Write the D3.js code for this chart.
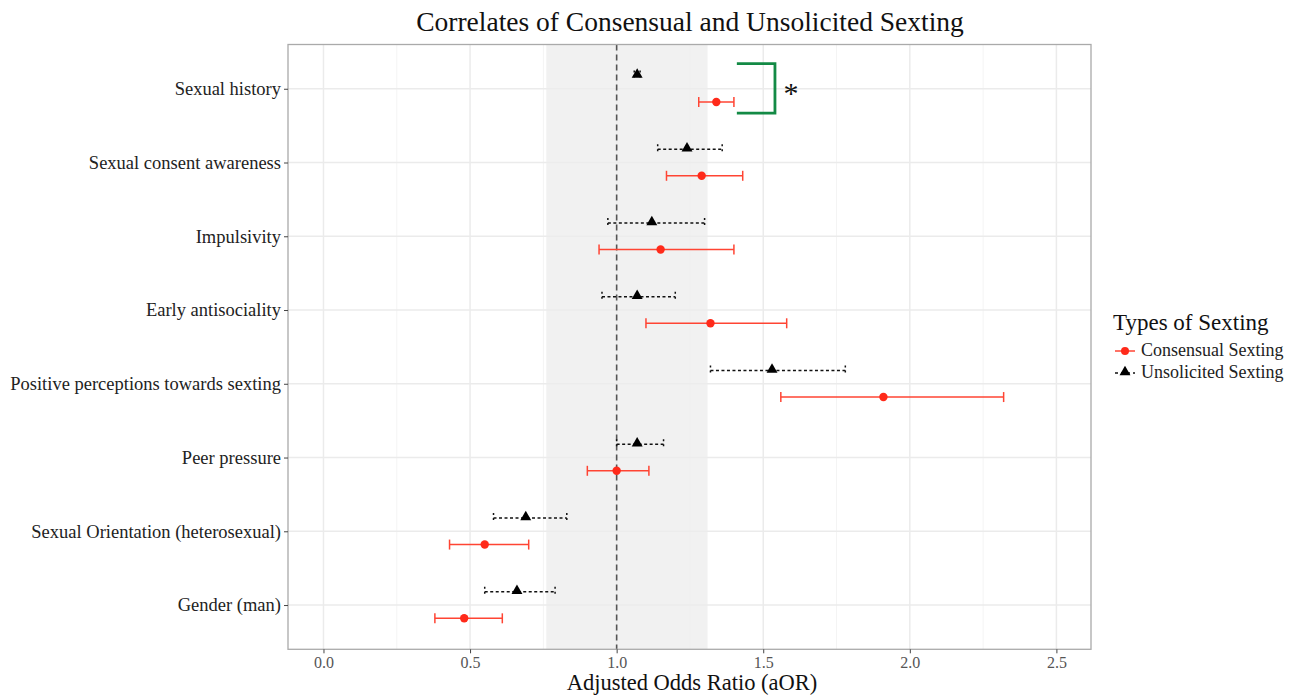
<!DOCTYPE html>
<html>
<head>
<meta charset="utf-8">
<script src="https://cdn.jsdelivr.net/npm/d3@7"></script>
<style>
body { margin: 0; background: #fff; }
text { font-family: "Liberation Serif", "Times New Roman", serif; }
</style>
</head>
<body>
<div id="chart"></div>
<script>
// categories, bottom to top
var categories = ["Gender (man)", "Sexual Orientation (heterosexual)", "Peer pressure",
	"Positive perceptions towards sexting", "Early antisociality", "Impulsivity",
	"Sexual consent awareness", "Sexual history"];

// consensual sexting (red circles)
var consEst = [0.48, 0.55, 1.00, 1.91, 1.32, 1.15, 1.29, 1.34];
var consLow = [0.38, 0.43, 0.90, 1.56, 1.10, 0.94, 1.17, 1.28];
var consHigh = [0.61, 0.70, 1.11, 2.32, 1.58, 1.40, 1.43, 1.40];

// unsolicited sexting (black triangles)
var unsEst = [0.66, 0.69, 1.07, 1.53, 1.07, 1.12, 1.24, 1.07];
var unsLow = [0.55, 0.58, 1.00, 1.32, 0.95, 0.97, 1.14, 1.06];
var unsHigh = [0.79, 0.83, 1.16, 1.78, 1.20, 1.30, 1.36, 1.08];

var xTicks = [0.0, 0.5, 1.0, 1.5, 2.0, 2.5];
var xMinor = [0.25, 0.75, 1.25, 1.75, 2.25];
var shadeBand = [0.76, 1.31];
var seriesNames = ["Consensual Sexting", "Unsolicited Sexting"];

var W = 1299, H = 696;
var pLeft = 288, pRight = 1091, pTop = 44.5, pBottom = 649.3;

var svg = d3.select("#chart").append("svg")
	.attr("width", W).attr("height", H);

var x = d3.scaleLinear().domain([-0.121, 2.618]).range([pLeft, pRight]);
var y = d3.scaleLinear().domain([0.4, 8.6]).range([pBottom, pTop]);
var dodge = 0.18;

// panel background grid
var g = svg.append("g");
g.selectAll(".minor").data(xMinor).enter().append("line")
	.attr("x1", function(d){ return x(d); }).attr("x2", function(d){ return x(d); })
	.attr("y1", pTop).attr("y2", pBottom)
	.attr("stroke", "#f4f4f4").attr("stroke-width", 1);
g.selectAll(".major").data(xTicks).enter().append("line")
	.attr("x1", function(d){ return x(d); }).attr("x2", function(d){ return x(d); })
	.attr("y1", pTop).attr("y2", pBottom)
	.attr("stroke", "#ebebeb").attr("stroke-width", 1.5);
g.selectAll(".hgrid").data(categories).enter().append("line")
	.attr("x1", pLeft).attr("x2", pRight)
	.attr("y1", function(d, i){ return y(i + 1); }).attr("y2", function(d, i){ return y(i + 1); })
	.attr("stroke", "#ebebeb").attr("stroke-width", 1.5);

// shaded band
g.append("rect")
	.attr("x", x(shadeBand[0])).attr("width", x(shadeBand[1]) - x(shadeBand[0]))
	.attr("y", pTop).attr("height", pBottom - pTop)
	.attr("fill", "#ececec").attr("opacity", 0.75);

// reference line at 1
g.append("line")
	.attr("x1", x(1)).attr("x2", x(1)).attr("y1", pTop).attr("y2", pBottom)
	.attr("stroke", "#555").attr("stroke-width", 1.6).attr("stroke-dasharray", "6,4");

// error bars
function errorBars(est, low, high, off, color, dash, capDash) {
	var grp = svg.append("g");
	est.forEach(function(e, i) {
		var yy = y(i + 1 + off);
		grp.append("line")
			.attr("x1", x(low[i])).attr("x2", x(high[i]))
			.attr("y1", yy).attr("y2", yy)
			.attr("stroke", color).attr("stroke-width", 1.5)
			.attr("stroke-dasharray", dash);
		[low[i], high[i]].forEach(function(v) {
			grp.append("line")
				.attr("x1", x(v)).attr("x2", x(v))
				.attr("y1", yy - 5).attr("y2", yy + 5)
				.attr("stroke", color).attr("stroke-width", 1.5)
				.attr("stroke-dasharray", capDash);
		});
	});
	return grp;
}

var consColor = "#ff2a1a";
var gu = errorBars(unsEst, unsLow, unsHigh, dodge, "#111", "3,2.5", "2,3");
var gc = errorBars(consEst, consLow, consHigh, -dodge, "#ff4433", null, null);

gc.selectAll("circle").data(consEst).enter().append("circle")
	.attr("cx", function(d){ return x(d); })
	.attr("cy", function(d, i){ return y(i + 1 - dodge); })
	.attr("r", 4.2).attr("fill", consColor);

var tri = d3.symbol().type(d3.symbolTriangle).size(52);
gu.selectAll("path.tri").data(unsEst).enter().append("path")
	.attr("class", "tri")
	.attr("d", tri)
	.attr("transform", function(d, i){ return "translate(" + x(d) + "," + (y(i + 1 + dodge) - 1) + ")"; })
	.attr("fill", "#000");

// significance bracket
var bracketX = [1.41, 1.54];
var bracketY = [8.34, 7.67];
svg.append("path")
	.attr("d", "M" + x(bracketX[0]) + "," + y(bracketY[0]) + "H" + x(bracketX[1]) +
		"V" + y(bracketY[1]) + "H" + x(bracketX[0]))
	.attr("fill", "none").attr("stroke", "#138a45").attr("stroke-width", 2.8);
svg.append("text")
	.attr("x", x(bracketX[1]) + 16).attr("y", y(8) + 14)
	.attr("text-anchor", "middle").attr("font-size", 30).attr("fill", "#111")
	.text("*");

// panel border
svg.append("rect")
	.attr("x", pLeft).attr("y", pTop).attr("width", pRight - pLeft).attr("height", pBottom - pTop)
	.attr("fill", "none").attr("stroke", "#aaa").attr("stroke-width", 1.3);

// axes
var xAxis = svg.append("g")
	.attr("transform", "translate(0," + pBottom + ")")
	.call(d3.axisBottom(x).tickValues(xTicks).tickFormat(d3.format(".1f")).tickSizeOuter(0).tickSize(4).tickPadding(3));
xAxis.select(".domain").remove();
xAxis.selectAll(".tick line").attr("stroke", "#444");
xAxis.selectAll(".tick text").attr("font-size", 16).attr("fill", "#555")
	.style("font-family", "Liberation Serif");

var yAxis = svg.append("g")
	.attr("transform", "translate(" + pLeft + ",0)")
	.call(d3.axisLeft(y).tickValues(d3.range(1, 9)).tickFormat(function(d){ return categories[d - 1]; })
		.tickSize(4).tickPadding(3).tickSizeOuter(0));
yAxis.select(".domain").remove();
yAxis.selectAll(".tick line").attr("stroke", "#444");
yAxis.selectAll(".tick text").attr("font-size", 18.5).attr("fill", "#222")
	.style("font-family", "Liberation Serif");

// titles
svg.append("text").attr("x", 690).attr("y", 31).attr("text-anchor", "middle")
	.attr("font-size", 27.5).attr("fill", "#111").text("Correlates of Consensual and Unsolicited Sexting");
svg.append("text").attr("x", 692).attr("y", 690).attr("text-anchor", "middle")
	.attr("font-size", 22.5).attr("fill", "#111").text("Adjusted Odds Ratio (aOR)");

// legend
var lg = svg.append("g").attr("transform", "translate(1113,330)");
lg.append("text").attr("x", 0).attr("y", 0).attr("font-size", 23).attr("fill", "#111").text("Types of Sexting");
seriesNames.forEach(function(name, i) {
	var ly = 21 + i * 22;
	var isCons = i === 0;
	lg.append("line").attr("x1", 2).attr("x2", 22).attr("y1", ly).attr("y2", ly)
		.attr("stroke", isCons ? "#ff4433" : "#111").attr("stroke-width", 1.5)
		.attr("stroke-dasharray", isCons ? null : "3,3");
	if (isCons) {
		lg.append("circle").attr("cx", 12).attr("cy", ly).attr("r", 4).attr("fill", consColor);
	} else {
		lg.append("path").attr("d", tri).attr("transform", "translate(12," + (ly - 1) + ")").attr("fill", "#000");
	}
	lg.append("text").attr("x", 28).attr("y", ly + 5).attr("font-size", 18).attr("fill", "#222").text(name);
});
</script>
</body>
</html>
